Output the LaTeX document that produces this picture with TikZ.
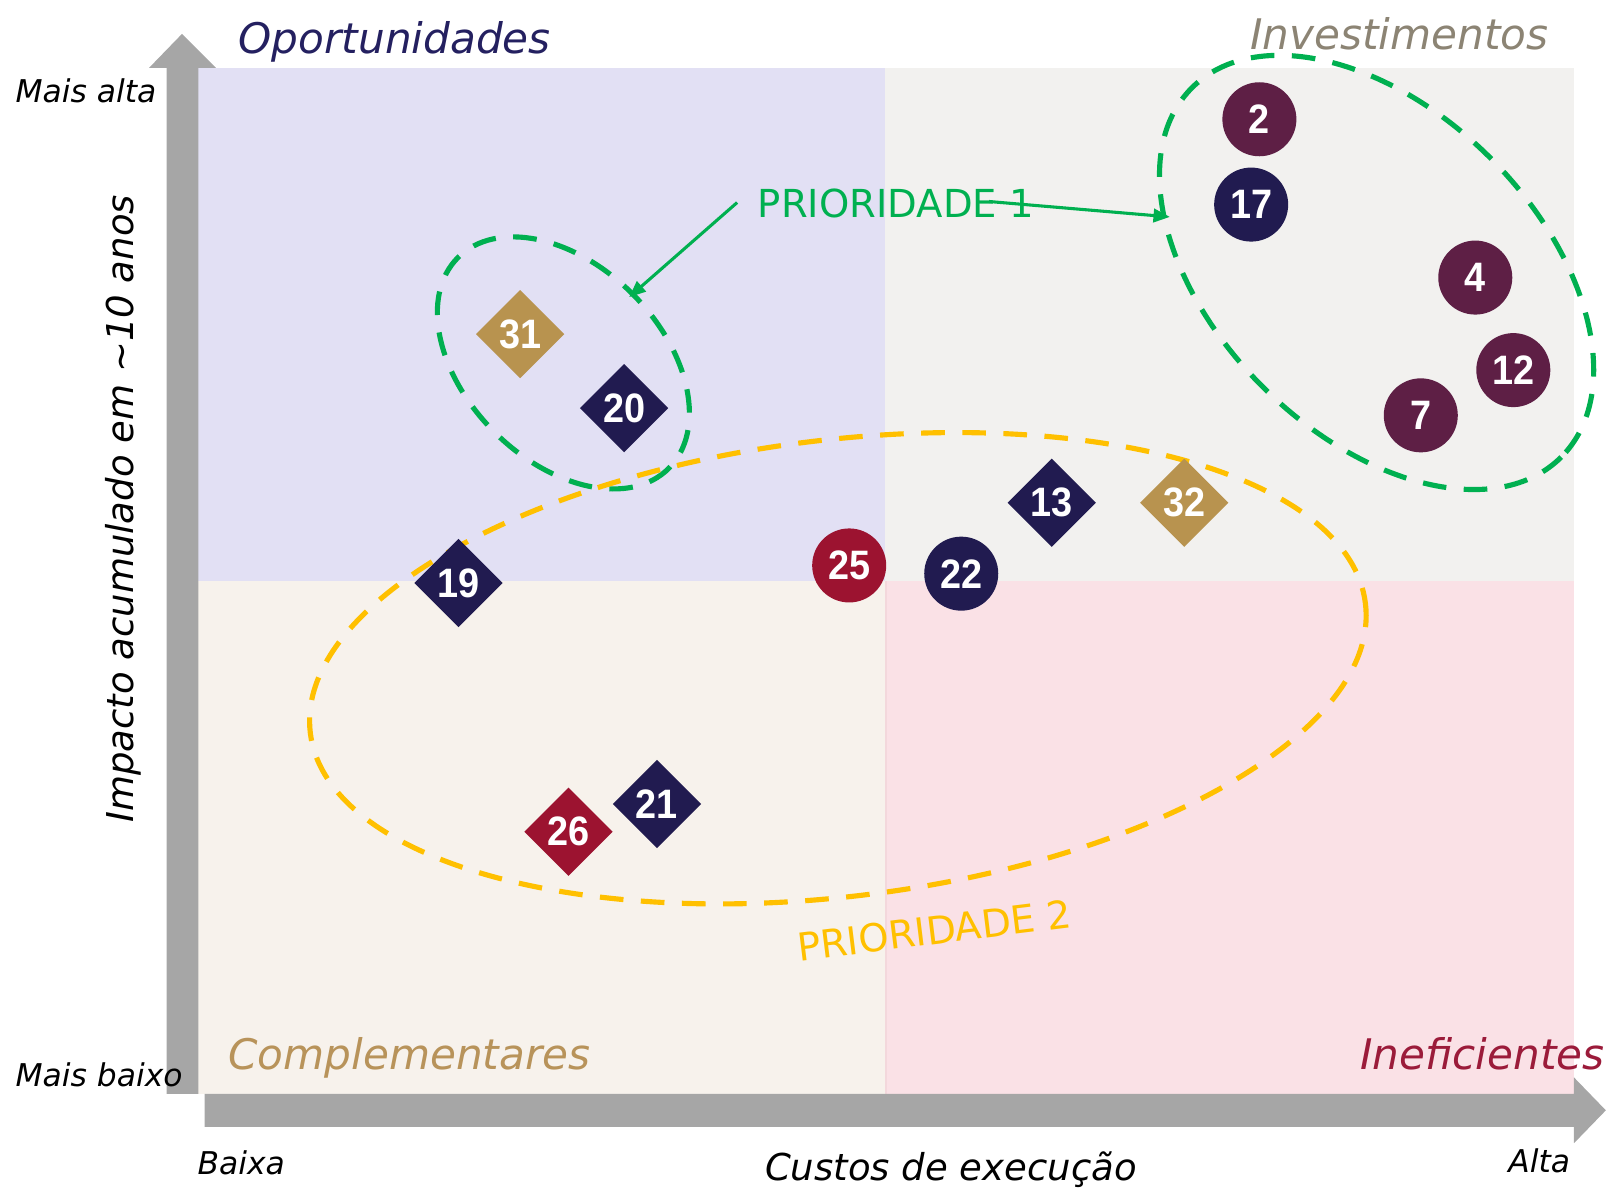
\documentclass[tikz,border=0pt]{standalone}
\usepackage{fontspec}
\setmainfont{DejaVu Sans}
\newfontfamily\numfont[FakeStretch=0.92]{Liberation Sans}
\usetikzlibrary{shapes.geometric,arrows.meta}
\definecolor{qtl}{HTML}{E2E0F4}
\definecolor{qtr}{HTML}{F2F1EF}
\definecolor{qbl}{HTML}{F7F2EC}
\definecolor{qbr}{HTML}{FAE1E6}
\definecolor{axisgray}{HTML}{A6A6A6}
\definecolor{pgreen}{HTML}{00B050}
\definecolor{pyellow}{HTML}{FFC000}
\definecolor{navy}{HTML}{211B50}
\definecolor{plum}{HTML}{5E1F45}
\definecolor{crimson}{HTML}{9C1330}
\definecolor{tan}{HTML}{B8934F}
\definecolor{topcol}{HTML}{242060}
\definecolor{invcol}{HTML}{8C8474}
\definecolor{compcol}{HTML}{B8935A}
\definecolor{inefcol}{HTML}{9B1B3A}
\definecolor{divline}{HTML}{F3D8DC}
\tikzset{
  lbl/.style={font=\fontsize{30.5}{36}\selectfont\itshape, inner sep=0, anchor=base west},
  qtitle/.style={font=\fontsize{41}{49}\selectfont\itshape, inner sep=0, anchor=base west},
  axlbl/.style={font=\fontsize{36}{42}\selectfont\itshape, inner sep=0, anchor=base},
  circ/.style={circle, fill=#1, minimum size=72pt, inner sep=0pt, text=white, font=\numfont\bfseries\fontsize{40}{42}\selectfont},
  diam/.style={diamond, aspect=1, fill=#1, minimum size=86pt, inner sep=0pt, text=white, font=\numfont\bfseries\fontsize{40}{42}\selectfont},
  gdash/.style={draw=pgreen, line width=5pt, dash pattern=on 23pt off 17pt},
  ydash/.style={draw=pyellow, line width=5pt, dash pattern=on 23pt off 17pt},
  garrow/.style={draw=pgreen, line width=3pt, -{Triangle[length=16pt,width=13pt]}},
}
\begin{document}
\begin{tikzpicture}[x=1pt,y=-1pt]
\useasboundingbox (0,0) rectangle (1568,1156);
% quadrants
\fill[qtl] (193,66) rectangle (861,565);
\fill[qtr] (861,66) rectangle (1531,565);
\fill[qbl] (193,565) rectangle (861,1064);
\fill[qbr] (861,565) rectangle (1531,1064);
\draw[divline, line width=2pt] (862,565) -- (862,1064);
% axes
\fill[axisgray] (162,1064) -- (162,66) -- (145,66) -- (177,33) -- (210,66) -- (193,66) -- (193,1064) -- cycle;
\fill[axisgray] (199,1064) -- (1531,1064) -- (1531,1048) -- (1562,1080) -- (1531,1112) -- (1531,1096) -- (199,1096) -- cycle;
% titles
\node[qtitle, text=topcol] (tOp) at (232,52) {Oportunidades};
\node[qtitle, text=invcol] (tInv) at (1216,48) {Investimentos};
\node[qtitle, text=compcol] (tComp) at (222,1040) {Complementares};
\node[qtitle, text=inefcol] (tInef) at (1323,1040) {Ineficientes};
% axis labels
\node[lbl] (lMA) at (15,100) {Mais alta};
\node[lbl] (lMB) at (15,1057) {Mais baixo};
\node[lbl] (lBx) at (192,1142) {Baixa};
\node[lbl] (lAl) at (1467,1140) {Alta};
\node[axlbl] (lCx) at (925,1148) {Custos de execução};
\node[axlbl, rotate=90] (lImp) at (130,495) {Impacto acumulado em \textasciitilde10 anos};
% priority ellipses
\draw[gdash, rotate around={-45:(548,353)}] (548,353) ellipse [x radius=145, y radius=95];
\draw[gdash, rotate around={-45:(1339,265)}] (1339,265) ellipse [x radius=254, y radius=157];
\draw[ydash, rotate around={7:(815,650)}] (815,650) ellipse [x radius=517, y radius=222];
% markers
\node[circ=plum] (n2) at (1225,116) {2};
\node[circ=navy] (n17) at (1217,199) {17};
\node[circ=plum] (n4) at (1435,270) {4};
\node[circ=plum] (n12) at (1472,360) {12};
\node[circ=plum] (n7) at (1382,404) {7};
\node[circ=crimson] (n25) at (826,550) {25};
\node[circ=navy] (n22) at (935,558) {22};
\node[diam=tan] (n31) at (506,325) {31};
\node[diam=navy] (n20) at (607,397) {20};
\node[diam=navy] (n19) at (446,567) {19};
\node[diam=navy] (n13) at (1023,489) {13};
\node[diam=tan] (n32) at (1152,489) {32};
\node[diam=navy] (n21) at (639,782) {21};
\node[diam=crimson] (n26) at (553,809) {26};
% priority labels
\node[font=\fontsize{37.5}{44}\selectfont, text=pgreen, inner sep=0, anchor=base west] (p1) at (737,212) {PRIORIDADE 1};
\node[font=\fontsize{37.5}{44}\selectfont, text=pyellow, inner sep=0, rotate=7] (p2) at (909,905) {PRIORIDADE 2};
\coordinate (a1s) at (717,197);
\coordinate (a1e) at (612,289);
\coordinate (a2s) at (962,196);
\coordinate (a2e) at (1138,211);
\draw[garrow] (a1s) -- (a1e);
\draw[garrow] (a2s) -- (a2e);
\end{tikzpicture}
\end{document}
